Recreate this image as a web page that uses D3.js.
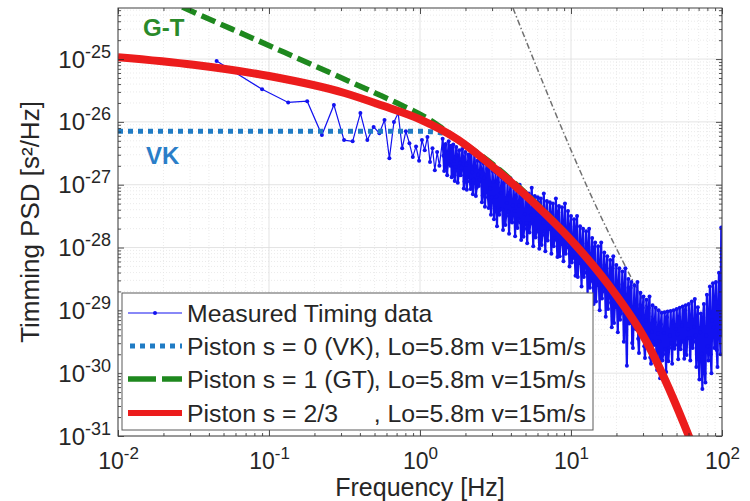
<!DOCTYPE html>
<html><head><meta charset="utf-8">
<script src="https://cdn.jsdelivr.net/npm/d3@7"></script>
<style>
body{margin:0;background:#fff}
text{font-family:"Liberation Sans",Arial,sans-serif;fill:#262626}
</style>
</head><body>
<svg id="chart" width="750" height="501"></svg>
<script>
// ---------- data ----------
const xTickValues = [1e-2, 1e-1, 1e0, 1e1, 1e2];
const xTickExponents = ["-2", "-1", "0", "1", "2"];
const yTickValues = [1e-31, 1e-30, 1e-29, 1e-28, 1e-27, 1e-26, 1e-25];
const yTickExponents = ["-31", "-30", "-29", "-28", "-27", "-26", "-25"];

const legendLabels = ["Measured Timing data", "Piston s = 0 (VK)", "Piston s = 1 (GT)", "Piston s = 2/3"];
const legendSuffix = ", Lo=5.8m v=15m/s";

// measured timing PSD: low-frequency bins (Hz) and log10 PSD (s^2/Hz)
const measuredLowFreq = [0.045,0.090,0.134,0.179,0.224,0.269,0.314,0.358,0.403,0.448,0.493,0.538,0.582,0.627,0.672,0.717,0.762,0.806,0.851,0.896,0.941,0.986,1.030,1.075,1.120,1.165,1.210,1.254,1.299,1.344];
const measuredLowExp = [-25.03,-25.48,-25.69,-25.67,-26.21,-25.73,-26.29,-26.31,-25.86,-26.29,-26.08,-26.18,-25.97,-26.58,-26.00,-25.86,-26.42,-26.15,-26.34,-26.56,-26.39,-26.62,-26.29,-26.45,-26.24,-26.64,-26.42,-26.77,-26.48,-26.70];

// measured timing PSD: dense part, log10 frequency and log10 PSD
const measuredHighLogF = [0.15,0.16,0.17,0.18,0.19,0.20,0.21,0.22,0.23,0.24,0.25,0.26,0.27,0.28,0.29,0.30,0.31,0.32,0.33,0.34,0.35,0.36,0.37,0.38,0.39,0.40,0.41,0.42,0.43,0.44,0.45,0.46,0.47,0.48,0.49,0.50,0.51,0.52,0.53,0.54,0.55,0.56,0.57,0.58,0.59,0.60,0.61,0.62,0.63,0.64,0.65,0.66,0.67,0.68,0.69,0.70,0.71,0.72,0.73,0.74,0.75,0.76,0.77,0.78,0.79,0.80,0.81,0.82,0.83,0.84,0.85,0.86,0.87,0.88,0.89,0.90,0.91,0.92,0.93,0.94,0.95,0.96,0.97,0.98,0.99,1.00,1.01,1.02,1.03,1.04,1.05,1.06,1.07,1.08,1.09,1.10,1.11,1.12,1.13,1.14,1.15,1.16,1.17,1.18,1.19,1.20,1.21,1.22,1.23,1.24,1.25,1.26,1.27,1.28,1.29,1.30,1.31,1.32,1.33,1.34,1.35,1.36,1.37,1.38,1.39,1.40,1.41,1.42,1.43,1.44,1.45,1.46,1.47,1.48,1.49,1.50,1.51,1.52,1.53,1.54,1.55,1.56,1.57,1.58,1.59,1.60,1.61,1.62,1.63,1.64,1.65,1.66,1.67,1.68,1.69,1.70,1.71,1.72,1.73,1.74,1.75,1.76,1.77,1.78,1.79,1.80,1.81,1.82,1.83,1.84,1.85,1.86,1.87,1.88,1.89,1.90,1.91,1.92,1.93,1.94,1.95,1.96,1.97,1.98,1.99,1.995,2.00];
const measuredHighExp = [-26.27,-26.78,-26.35,-26.85,-26.31,-26.70,-26.88,-26.36,-26.94,-26.40,-26.97,-26.45,-26.85,-26.43,-27.06,-26.48,-27.08,-26.52,-26.95,-26.50,-27.15,-26.50,-27.18,-26.62,-27.02,-26.63,-27.28,-26.66,-27.35,-26.62,-27.20,-26.72,-27.48,-26.78,-27.55,-26.80,-27.66,-26.74,-27.40,-26.88,-27.72,-26.92,-27.50,-26.96,-27.78,-26.90,-27.60,-27.03,-27.82,-27.06,-27.55,-27.00,-27.88,-27.10,-27.70,-27.12,-27.93,-27.14,-27.62,-27.05,-27.98,-27.18,-27.75,-27.20,-28.02,-27.22,-27.80,-27.14,-28.06,-27.26,-27.70,-27.28,-28.10,-27.30,-27.85,-27.22,-28.15,-27.34,-27.95,-27.36,-28.22,-27.30,-28.00,-27.42,-28.30,-27.50,-28.15,-27.55,-28.45,-27.50,-28.25,-27.66,-28.62,-27.70,-28.40,-27.74,-28.75,-27.70,-28.50,-27.85,-28.90,-27.92,-28.60,-27.98,-29.00,-27.92,-28.70,-28.08,-29.10,-28.14,-28.80,-28.20,-29.27,-28.14,-28.95,-28.28,-29.35,-28.33,-29.05,-28.38,-29.50,-28.33,-29.88,-28.50,-29.20,-28.55,-29.60,-28.60,-29.30,-28.55,-29.68,-28.72,-29.40,-28.78,-29.76,-28.83,-29.45,-28.78,-29.85,-28.92,-29.55,-28.96,-29.95,-29.00,-30.08,-29.04,-29.70,-29.03,-29.98,-29.02,-29.60,-29.01,-29.85,-29.00,-29.55,-28.98,-29.78,-28.96,-29.50,-28.94,-29.77,-28.92,-29.45,-28.90,-29.80,-28.86,-29.50,-28.82,-29.90,-28.95,-30.10,-29.05,-30.25,-28.90,-30.15,-28.75,-29.80,-28.62,-30.00,-28.57,-29.60,-28.55,-29.90,-28.40,-29.70,-27.68,-29.40];
// in-between bins of the dense part
const measuredHalfLogF = [0.155,0.165,0.175,0.185,0.195,0.205,0.215,0.225,0.235,0.245,0.255,0.265,0.275,0.285,0.295,0.305,0.315,0.325,0.335,0.345,0.355,0.365,0.375,0.385,0.395,0.405,0.415,0.425,0.435,0.445,0.455,0.465,0.475,0.485,0.495,0.505,0.515,0.525,0.535,0.545,0.555,0.565,0.575,0.585,0.595,0.605,0.615,0.625,0.635,0.645,0.655,0.665,0.675,0.685,0.695,0.705,0.715,0.725,0.735,0.745,0.755,0.765,0.775,0.785,0.795,0.805,0.815,0.825,0.835,0.845,0.855,0.865,0.875,0.885,0.895,0.905,0.915,0.925,0.935,0.945,0.955,0.965,0.975,0.985,0.995,1.005,1.015,1.025,1.035,1.045,1.055,1.065,1.075,1.085,1.095,1.105,1.115,1.125,1.135,1.145,1.155,1.165,1.175,1.185,1.195,1.205,1.215,1.225,1.235,1.245,1.255,1.265,1.275,1.285,1.295,1.305,1.315,1.325,1.335,1.345,1.355,1.365,1.375,1.385,1.395,1.405,1.415,1.425,1.435,1.445,1.455,1.465,1.475,1.485,1.495,1.505,1.515,1.525,1.535,1.545,1.555,1.565,1.575,1.585,1.595,1.605,1.615,1.625,1.635,1.645,1.655,1.665,1.675,1.685,1.695,1.705,1.715,1.725,1.735,1.745,1.755,1.765,1.775,1.785,1.795,1.805,1.815,1.825,1.835,1.845,1.855,1.865,1.875,1.885,1.895,1.905,1.915,1.925,1.935,1.945,1.955,1.965,1.975,1.985];
const measuredHalfExp = [-26.54,-26.38,-26.73,-26.50,-26.68,-26.38,-26.86,-26.62,-26.72,-26.53,-26.85,-26.65,-26.73,-26.56,-26.95,-26.68,-26.88,-26.55,-27.07,-26.80,-26.92,-26.71,-27.05,-26.84,-26.92,-26.75,-27.17,-26.89,-27.12,-26.75,-27.37,-27.06,-27.20,-26.95,-27.38,-27.19,-26.96,-27.48,-27.13,-27.39,-26.97,-27.64,-27.29,-27.43,-27.18,-27.59,-27.33,-27.42,-27.19,-27.69,-27.33,-27.60,-27.16,-27.83,-27.47,-27.61,-27.34,-27.76,-27.48,-27.57,-27.33,-27.84,-27.48,-27.73,-27.29,-27.96,-27.60,-27.74,-27.47,-27.89,-27.61,-27.71,-27.47,-27.98,-27.62,-27.88,-27.44,-28.14,-27.77,-27.92,-27.64,-28.10,-27.81,-27.92,-27.67,-28.24,-27.86,-28.17,-27.68,-28.47,-28.07,-28.25,-27.93,-28.47,-28.14,-28.27,-27.99,-28.64,-28.20,-28.54,-28.00,-28.86,-28.42,-28.60,-28.28,-28.81,-28.48,-28.61,-28.33,-28.98,-28.54,-28.88,-28.33,-29.20,-28.75,-28.93,-28.59,-29.15,-28.80,-28.94,-28.64,-29.31,-28.85,-29.21,-28.64,-29.52,-29.07,-29.25,-28.91,-29.45,-29.11,-29.24,-28.96,-29.57,-29.16,-29.47,-28.96,-29.75,-29.34,-29.50,-29.19,-29.69,-29.37,-29.49,-29.22,-29.80,-29.36,-29.62,-29.11,-29.81,-29.40,-29.52,-29.20,-29.61,-29.30,-29.38,-29.12,-29.62,-29.24,-29.50,-29.00,-29.71,-29.30,-29.44,-29.11,-29.60,-29.26,-29.40,-29.12,-29.78,-29.35,-29.69,-29.11,-30.00,-29.40,-29.57,-29.04,-29.70,-29.16,-29.27,-28.81,-29.63,-28.94,-29.34];

// model curves (log10 frequency, log10 PSD)
const vkLogF  = [-2.00,-1.00,0.00,0.10,0.20,0.30,0.50,0.75,1.00,1.25,1.50,1.75,1.80];
const vkExp   = [-26.15,-26.15,-26.15,-26.16,-26.22,-26.38,-26.76,-27.29,-27.90,-28.62,-29.52,-30.84,-31.14];
const gtLogF  = [-1.70,-1.556,-1.079,-0.298,-0.152,0.066,0.199,0.35,0.50,0.75,1.00,1.25,1.50,1.75,1.80];
const gtExp   = [-24.03,-24.19,-24.70,-25.54,-25.70,-25.97,-26.19,-26.44,-26.71,-27.25,-27.86,-28.58,-29.48,-30.80,-31.10];
const s23LogF = [-2.00,-1.50,-1.00,-0.50,-0.25,0.00,0.25,0.50,0.75,1.00,1.25,1.50,1.75,1.80];
const s23Exp  = [-24.97,-25.09,-25.27,-25.54,-25.74,-25.96,-26.28,-26.75,-27.28,-27.88,-28.60,-29.50,-30.82,-31.12];
const asymLogF = [0.616,1.146,1.60];
const asymExp  = [-24.19,-27.24,-29.40];

// ---------- chart ----------
const m = {l:118, r:722, t:8, b:436};
const svg = d3.select("#chart");
const x = d3.scaleLog().domain([1e-2, 1e2]).range([m.l, m.r]);
const y = d3.scaleLog().domain([1e-31, 6.5e-25]).range([m.b, m.t]);

const xMinor = [], yMinor = [];
for (let e=-2; e<2; e++) for (let k=2;k<=9;k++) xMinor.push(k*Math.pow(10,e));
for (let e=-31; e<=-25; e++) for (let k=2;k<=9;k++){ const v=k*Math.pow(10,e); if (v<6.5e-25) yMinor.push(v); }

svg.append("rect").attr("x",m.l).attr("y",m.t).attr("width",m.r-m.l).attr("height",m.b-m.t).attr("fill","#fff");

// grid
const grid = svg.append("g");
grid.selectAll(".xmin").data(xMinor).join("line")
  .attr("x1",d=>x(d)).attr("x2",d=>x(d)).attr("y1",m.t).attr("y2",m.b)
  .attr("stroke","#e2e2e2").attr("stroke-width",0.7).attr("stroke-dasharray","1,2");
grid.selectAll(".ymin").data(yMinor).join("line")
  .attr("y1",d=>y(d)).attr("y2",d=>y(d)).attr("x1",m.l).attr("x2",m.r)
  .attr("stroke","#e2e2e2").attr("stroke-width",0.7).attr("stroke-dasharray","1,2");
grid.selectAll(".xmaj").data(xTickValues).join("line")
  .attr("x1",d=>x(d)).attr("x2",d=>x(d)).attr("y1",m.t).attr("y2",m.b)
  .attr("stroke","#dcdcdc").attr("stroke-width",0.8);
grid.selectAll(".ymaj").data(yTickValues).join("line")
  .attr("y1",d=>y(d)).attr("y2",d=>y(d)).attr("x1",m.l).attr("x2",m.r)
  .attr("stroke","#dcdcdc").attr("stroke-width",0.8);

svg.append("clipPath").attr("id","clip").append("rect")
  .attr("x",m.l).attr("y",m.t).attr("width",m.r-m.l).attr("height",m.b-m.t);
const plot = svg.append("g").attr("clip-path","url(#clip)");

const toPts = (lf, ex) => lf.map((f,i)=>[x(Math.pow(10,f)), y(Math.pow(10,ex[i]))]);
const smooth = d3.line().curve(d3.curveMonotoneX);
const straight = d3.line();

// asymptote (gray dash-dot)
plot.append("path").attr("d", smooth(toPts(asymLogF, asymExp)))
  .attr("fill","none").attr("stroke","#707070").attr("stroke-width",1.5)
  .attr("stroke-dasharray","6,2.5,1.5,2.5");

// measured data
const blue = "#1212f0";
const lowPts = measuredLowFreq.map((f,i)=>[x(f), y(Math.pow(10,measuredLowExp[i]))]);
const dense = toPts(measuredHighLogF, measuredHighExp).concat(toPts(measuredHalfLogF, measuredHalfExp))
  .sort((a,b)=>a[0]-b[0]);
plot.append("path").attr("d", straight(lowPts.concat([dense[0]])))
  .attr("fill","none").attr("stroke",blue).attr("stroke-width",1.2);
plot.append("path").attr("d", straight(dense))
  .attr("fill","none").attr("stroke",blue).attr("stroke-width",2.2).attr("stroke-linejoin","round");
plot.selectAll(".mk").data(lowPts.concat(dense)).join("circle")
  .attr("cx",d=>d[0]).attr("cy",d=>d[1]).attr("r",2).attr("fill",blue);

// VK dotted
plot.append("path").attr("d", smooth(toPts(vkLogF, vkExp)))
  .attr("fill","none").attr("stroke","#1f7bc4").attr("stroke-width",5)
  .attr("stroke-dasharray","5,5");
// GT dashed
plot.append("path").attr("d", smooth(toPts(gtLogF, gtExp)))
  .attr("fill","none").attr("stroke","#1e881e").attr("stroke-width",5.5)
  .attr("stroke-dasharray","15,6");
// s = 2/3 solid red
plot.append("path").attr("d", smooth(toPts(s23LogF, s23Exp)))
  .attr("fill","none").attr("stroke","#ec1c1c").attr("stroke-width",8);

// annotations
svg.append("text").attr("x",143).attr("y",36).text("G-T")
  .style("fill","#2a8a2a").attr("font-weight","bold").attr("font-size",24);
svg.append("text").attr("x",146).attr("y",164).text("VK")
  .style("fill","#2a7ec8").attr("font-weight","bold").attr("font-size",24);

// axes
const axColor = "#262626";
function styleAxis(g){ g.selectAll("path.domain").remove(); g.selectAll("line").attr("stroke",axColor).attr("stroke-width",0.8); }
const fmtEmpty = () => "";
const axB = svg.append("g").attr("transform",`translate(0,${m.b})`)
  .call(d3.axisBottom(x).tickValues(xTickValues).tickSize(-6).tickSizeOuter(0).tickFormat(fmtEmpty)).call(styleAxis);
svg.append("g").attr("transform",`translate(0,${m.b})`)
  .call(d3.axisBottom(x).tickValues(xMinor).tickSize(-3).tickSizeOuter(0).tickFormat(fmtEmpty)).call(styleAxis);
svg.append("g").attr("transform",`translate(0,${m.t})`)
  .call(d3.axisTop(x).tickValues(xTickValues).tickSize(-6).tickSizeOuter(0).tickFormat(fmtEmpty)).call(styleAxis);
svg.append("g").attr("transform",`translate(0,${m.t})`)
  .call(d3.axisTop(x).tickValues(xMinor).tickSize(-3).tickSizeOuter(0).tickFormat(fmtEmpty)).call(styleAxis);
const axL = svg.append("g").attr("transform",`translate(${m.l},0)`)
  .call(d3.axisLeft(y).tickValues(yTickValues).tickSize(-6).tickSizeOuter(0).tickFormat(fmtEmpty)).call(styleAxis);
svg.append("g").attr("transform",`translate(${m.l},0)`)
  .call(d3.axisLeft(y).tickValues(yMinor).tickSize(-3).tickSizeOuter(0).tickFormat(fmtEmpty)).call(styleAxis);
svg.append("g").attr("transform",`translate(${m.r},0)`)
  .call(d3.axisRight(y).tickValues(yTickValues).tickSize(-6).tickSizeOuter(0).tickFormat(fmtEmpty)).call(styleAxis);
svg.append("g").attr("transform",`translate(${m.r},0)`)
  .call(d3.axisRight(y).tickValues(yMinor).tickSize(-3).tickSizeOuter(0).tickFormat(fmtEmpty)).call(styleAxis);

svg.append("rect").attr("x",m.l).attr("y",m.t).attr("width",m.r-m.l).attr("height",m.b-m.t)
  .attr("fill","none").attr("stroke","#404040").attr("stroke-width",1);

// tick labels with superscripts
axB.selectAll(".tick text").each(function(d,i){
  const t = d3.select(this).text(null).attr("y",null).attr("dy",null)
    .attr("transform","translate(0,33)").attr("text-anchor","middle")
    .style("font-size","23px").style("fill",axColor);
  t.append("tspan").text("10");
  t.append("tspan").attr("dy",-10).style("font-size","17px").text(xTickExponents[i]);
});
axL.selectAll(".tick text").each(function(d,i){
  const t = d3.select(this).text(null).attr("x",null).attr("dy",null)
    .attr("transform","translate(-7,8)").attr("text-anchor","end")
    .style("font-size","24px").style("fill",axColor);
  t.append("tspan").text("10");
  t.append("tspan").attr("dy",-10).style("font-size","18px").text(yTickExponents[i]);
});

// axis titles
svg.append("text").attr("x",(m.l+m.r)/2).attr("y",496).attr("text-anchor","middle")
  .style("font-size","25px").text("Frequency [Hz]");
svg.append("text").attr("transform",`translate(39,222) rotate(-90)`).attr("text-anchor","middle")
  .style("font-size","26px").text("Timming PSD [s²/Hz]");

// legend
const lg = svg.append("g");
lg.append("rect").attr("x",122).attr("y",293).attr("width",471).attr("height",137)
  .attr("fill","#fff").attr("stroke","#5a5a5a").attr("stroke-width",1);
const rowsY = [313, 346, 379, 413];
const sx0 = 128, sx1 = 182, tx = 187;
lg.append("line").attr("x1",sx0).attr("x2",sx1).attr("y1",rowsY[0]).attr("y2",rowsY[0]).attr("stroke",blue).attr("stroke-width",1.2);
lg.append("circle").attr("cx",(sx0+sx1)/2).attr("cy",rowsY[0]).attr("r",2).attr("fill",blue);
lg.append("line").attr("x1",sx0+2).attr("x2",sx1).attr("y1",rowsY[1]).attr("y2",rowsY[1]).attr("stroke","#1f7bc4").attr("stroke-width",5).attr("stroke-dasharray","5,5");
lg.append("line").attr("x1",sx0).attr("x2",sx1).attr("y1",rowsY[2]).attr("y2",rowsY[2]).attr("stroke","#1e881e").attr("stroke-width",5.5).attr("stroke-dasharray","28,6");
lg.append("line").attr("x1",sx0).attr("x2",sx1).attr("y1",rowsY[3]).attr("y2",rowsY[3]).attr("stroke","#ec1c1c").attr("stroke-width",6);
const labels = legendLabels.map((s,i)=>lg.append("text").attr("x",tx).attr("y",rowsY[i]+8.5).style("font-size","24.8px").text(s));
const sfx = tx + labels[1].node().getComputedTextLength();
for (let i=1;i<4;i++) lg.append("text").attr("x",sfx).attr("y",rowsY[i]+8.5).style("font-size","24.8px").text(legendSuffix);
</script>
</body></html>
